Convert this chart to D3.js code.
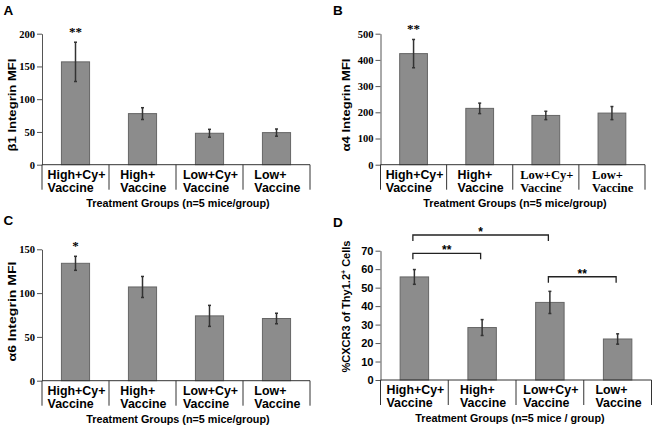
<!DOCTYPE html>
<html><head><meta charset="utf-8">
<script src="https://cdn.jsdelivr.net/npm/d3@7"></script>
<style>
html,body{margin:0;padding:0;background:#fff;}
svg{display:block;}
</style></head>
<body>
<svg id="chart" width="655" height="426"></svg>
<script>
// ---------- data ----------
const categories = [["High+Cy+","Vaccine"],["High+","Vaccine"],["Low+Cy+","Vaccine"],["Low+","Vaccine"]];
const xAxisTitleAC = "Treatment Groups (n=5 mice/group)";
const xAxisTitleD = "Treatment Groups (n=5 mice / group)";

const beta1Means = [157, 78, 48, 49];
const beta1Errors = [30, 9, 6, 5.5];
const beta1Ticks = [0, 50, 100, 150, 200];
const beta1Stars = ["**", "", "", ""];

const alpha4Means = [424, 215, 188, 197];
const alpha4Errors = [54, 20, 16, 25];
const alpha4Ticks = [0, 100, 200, 300, 400, 500];
const alpha4Stars = ["**", "", "", ""];

const alpha6Means = [134, 107, 74, 71];
const alpha6Errors = [8, 12, 12, 6];
const alpha6Ticks = [0, 50, 100, 150];
const alpha6Stars = ["*", "", "", ""];

const cxcr3Means = [55.8, 28.4, 42, 22.2];
const cxcr3Errors = [4, 4.3, 6, 2.8];
const cxcr3Ticks = [0, 10, 20, 30, 40, 50, 60, 70];
// brackets: [from index, to index, level (data units), label]
const cxcr3Brackets = [[0, 2, 78.5, "*"], [0, 1, 68.6, "**"], [2, 3, 55.9, "**"]];

// ---------- drawing ----------
const svg = d3.select("#chart");
const SANS = "Arial, 'Liberation Sans', sans-serif";
const SERIF = "'Times New Roman', 'Liberation Serif', serif";

function panel(cfg) {
  const g = svg.append("g");
  const x = d3.scaleBand().domain(d3.range(categories.length)).range([cfg.x0, cfg.x1]).padding(0);
  const y = d3.scaleLinear().domain([0, cfg.ticks[cfg.ticks.length - 1]]).range([cfg.yb, cfg.yt]);
  const bw = x.bandwidth() * 0.42;

  // panel letter
  g.append("text").attr("x", cfg.lx).attr("y", cfg.ly).text(cfg.letter)
    .attr("font-family", SANS).attr("font-weight", "bold").attr("font-size", 13.5).attr("fill", "#000");

  // bars
  g.selectAll("rect.bar").data(cfg.means).enter().append("rect")
    .attr("x", (d, i) => x(i) + (x.bandwidth() - bw) / 2)
    .attr("y", d => y(d))
    .attr("width", bw)
    .attr("height", d => y(0) - y(d))
    .attr("fill", "#8c8c8c").attr("stroke", "#666").attr("stroke-width", 1);

  // error bars
  cfg.means.forEach((m, i) => {
    const cx = x(i) + x.bandwidth() / 2;
    const e = cfg.errors[i];
    g.append("line").attr("x1", cx).attr("x2", cx).attr("y1", y(m + e)).attr("y2", y(m - e))
      .attr("stroke", "#333").attr("stroke-width", 1.5);
    [m + e, m - e].forEach(v => g.append("line").attr("x1", cx - 1.5).attr("x2", cx + 1.5)
      .attr("y1", y(v)).attr("y2", y(v)).attr("stroke", "#333").attr("stroke-width", 1.5));
  });

  // y axis
  const ya = g.append("g").attr("transform", `translate(${cfg.x0},0)`)
    .call(d3.axisLeft(y).tickValues(cfg.ticks).tickSize(5).tickSizeOuter(0).tickPadding(2));
  ya.select(".domain").attr("stroke", "#555").attr("stroke-width", 1);
  ya.selectAll(".tick line").attr("stroke", "#555");
  ya.selectAll(".tick text").attr("font-family", cfg.tickFont).attr("font-weight", "bold")
    .attr("font-size", cfg.tickSize).attr("fill", "#000");

  // x axis line and separators
  g.append("line").attr("x1", cfg.x0).attr("x2", cfg.x1).attr("y1", y(0)).attr("y2", y(0))
    .attr("stroke", "#333").attr("stroke-width", 1);
  const seps = d3.range(categories.length + 1).map(i => i < categories.length ? x(i) : cfg.x1);
  seps.forEach(sx => g.append("line").attr("x1", sx).attr("x2", sx).attr("y1", y(0)).attr("y2", y(0) + 25)
    .attr("stroke", "#333").attr("stroke-width", 1));

  // category labels (left-aligned lines, block centered in band)
  categories.forEach((lines, i) => {
    const font = cfg.catFonts[i];
    const t = g.append("text").attr("font-family", font).attr("font-weight", "bold")
      .attr("font-size", font === SERIF ? 12.5 : 12.4).attr("fill", "#000");
    lines.forEach((ln, k) => t.append("tspan").attr("x", 0).attr("y", y(0) + 13.8 + k * 13.5).text(ln));
    const w = t.node().getBBox().width;
    const bx = x(i) + (x.bandwidth() - w) / 2 + 1;
    t.selectAll("tspan").attr("x", bx);
  });

  // x axis title
  g.append("text").attr("x", cfg.titleX).attr("y", y(0) + 42).attr("text-anchor", "middle")
    .attr("font-family", SANS).attr("font-weight", "bold").attr("font-size", 10.8).attr("fill", "#000")
    .text(cfg.xTitle);

  // y axis title
  g.append("text").attr("transform", `translate(${cfg.ytx},${cfg.yty}) rotate(-90)`)
    .attr("text-anchor", "middle").attr("font-family", SANS).attr("font-weight", "bold")
    .attr("font-size", 11).attr("fill", "#000")
    .attr("textLength", cfg.ytLen).attr("lengthAdjust", "spacingAndGlyphs")
    .html(cfg.yTitle);

  // stars above bars
  if (cfg.stars) cfg.stars.forEach((s, i) => {
    if (!s) return;
    const cx = x(i) + x.bandwidth() / 2;
    g.append("text").attr("x", cx).attr("y", y(cfg.means[i] + cfg.errors[i]) - 6).attr("text-anchor", "middle")
      .attr("font-family", SERIF).attr("font-weight", "bold").attr("font-size", 13).attr("fill", "#000")
      .text(s);
  });

  // brackets
  if (cfg.brackets) cfg.brackets.forEach(([a, b, lvl, s]) => {
    const xa = x(a) + x.bandwidth() / 2 - 1.5, xb = x(b) + x.bandwidth() / 2 - 1.5;
    const yy = y(lvl);
    g.append("path").attr("d", `M${xa},${yy + 6}V${yy}H${xb}V${yy + 6}`)
      .attr("fill", "none").attr("stroke", "#222").attr("stroke-width", 1.3);
    g.append("text").attr("x", (xa + xb) / 2).attr("y", yy + 1).attr("text-anchor", "middle")
      .attr("font-family", SANS).attr("font-weight", "bold").attr("font-size", 12).attr("fill", "#000").text(s);
  });
}

panel({letter: "A", lx: 3.5, ly: 15, x0: 42, x1: 310, yt: 33.7, yb: 164.7,
  means: beta1Means, errors: beta1Errors, ticks: beta1Ticks, stars: beta1Stars,
  tickFont: SERIF, tickSize: 10.5, catFonts: [SANS, SANS, SANS, SANS],
  xTitle: xAxisTitleAC, titleX: 178, yTitle: "β1 Integrin MFI", ytx: 16, yty: 105, ytLen: 93});

panel({letter: "B", lx: 333, ly: 15, x0: 380.5, x1: 645, yt: 33.7, yb: 164.7,
  means: alpha4Means, errors: alpha4Errors, ticks: alpha4Ticks, stars: alpha4Stars,
  tickFont: SERIF, tickSize: 10.5, catFonts: [SANS, SANS, SERIF, SERIF],
  xTitle: xAxisTitleAC, titleX: 515, yTitle: "α4 Integrin MFI", ytx: 349.5, yty: 105, ytLen: 93});

panel({letter: "C", lx: 3.5, ly: 225, x0: 42, x1: 310, yt: 249.3, yb: 380.7,
  means: alpha6Means, errors: alpha6Errors, ticks: alpha6Ticks, stars: alpha6Stars,
  tickFont: SERIF, tickSize: 10.5, catFonts: [SANS, SANS, SANS, SANS],
  xTitle: xAxisTitleAC, titleX: 178, yTitle: "α6 Integrin MFI", ytx: 15.5, yty: 311.5, ytLen: 100});

panel({letter: "D", lx: 333, ly: 226.5, x0: 380.5, x1: 651.5, yt: 250.7, yb: 380,
  means: cxcr3Means, errors: cxcr3Errors, ticks: cxcr3Ticks, brackets: cxcr3Brackets,
  tickFont: SANS, tickSize: 11, catFonts: [SANS, SANS, SANS, SANS],
  xTitle: xAxisTitleD, titleX: 510, yTitle: "%CXCR3 of Thy1.2<tspan dy='-4' font-size='7'>+</tspan><tspan dy='4'> Cells</tspan>", ytx: 350, yty: 306.5, ytLen: 132});
</script>
</body></html>
